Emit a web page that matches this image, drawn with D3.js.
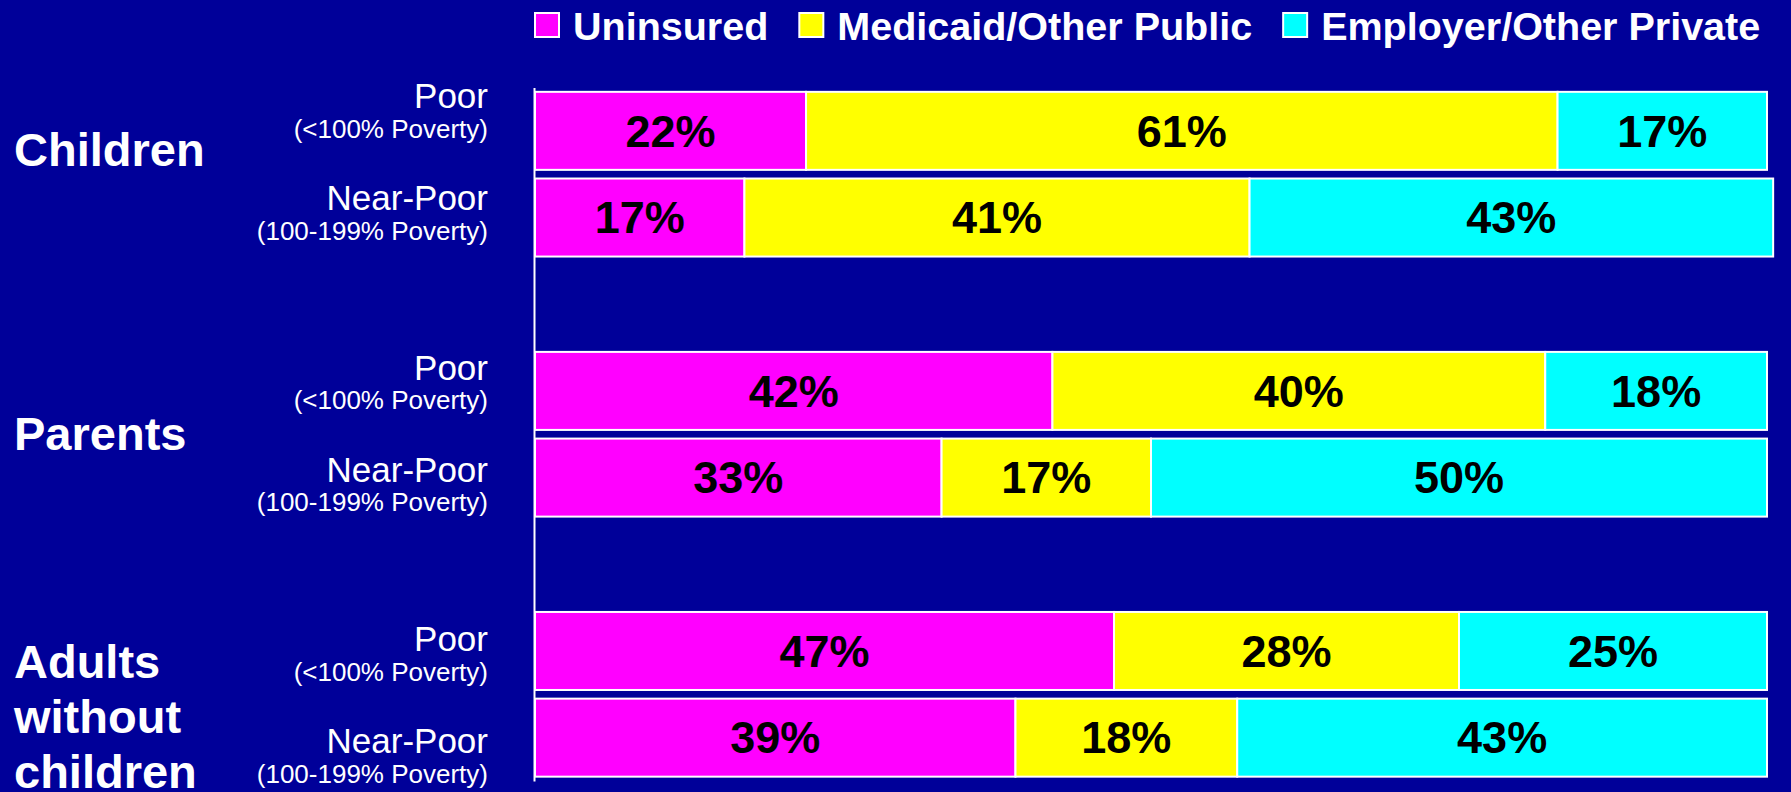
<!DOCTYPE html>
<html>
<head>
<meta charset="utf-8">
<script src="https://cdn.jsdelivr.net/npm/d3@7"></script>
<style>
  html, body { margin: 0; padding: 0; background: #000099; }
  svg { display: block; font-family: "Liberation Sans", Arial, sans-serif; }
</style>
</head>
<body>
<script>
var width = 1791;
var height = 792;

// data
var groups = ["Children", "Parents", "Adults without children"];
var incomeLevels = ["Poor", "Near-Poor"];
var incomeNotes = ["(<100% Poverty)", "(100-199% Poverty)"];
var series = ["Uninsured", "Medicaid/Other Public", "Employer/Other Private"];
var colors = ["#ff00ff", "#ffff00", "#00ffff"];

// rows: children poor, children near-poor, parents poor, parents near-poor, adults poor, adults near-poor
var uninsured = [22, 17, 42, 33, 47, 39];
var medicaid  = [61, 41, 40, 17, 28, 18];
var employer  = [17, 42.5, 18, 50, 25, 43];

var rows = [];
groups.forEach(function(g, gi) {
  incomeLevels.forEach(function(lv, li) {
    var i = gi * incomeLevels.length + li;
    var r = {key: g + "|" + lv, group: g, level: lv, note: incomeNotes[li]};
    r[series[0]] = uninsured[i];
    r[series[1]] = medicaid[i];
    r[series[2]] = employer[i];
    rows.push(r);
  });
});

// band slots with an empty slot between groups
var slots = [];
groups.forEach(function(g, gi) {
  if (gi > 0) slots.push("gap" + gi);
  incomeLevels.forEach(function(lv) { slots.push(g + "|" + lv); });
});

var svg = d3.select("body")
            .append("svg")
            .attr("width", width)
            .attr("height", height);

svg.append("rect")
   .attr("width", width)
   .attr("height", height)
   .attr("fill", "#000099");

var x = d3.scaleLinear().domain([0, 100]).range([535, 1767]);
var y = d3.scaleBand().domain(slots).range([87.5, 781]).paddingInner(0.1).paddingOuter(0.05);

// label positions (text boxes sit a bit apart from the bars)
var labelY = d3.scalePoint().domain(groups).range([163, 706]);
var levelOffset = d3.scalePoint().domain(incomeLevels).range([-51, 51]);
var titleY = d3.scalePoint().domain(groups).range([150, 717]);

var stacked = d3.stack().keys(series)(rows);

///////////////////////////////// bars /////////////////////////////////
var layer = svg.selectAll("g.layer")
     .data(stacked)
     .enter()
     .append("g")
     .attr("class", "layer")
     .attr("fill", function(d, i) { return colors[i]; });

layer.selectAll("rect")
     .data(function(d) { return d; })
     .enter()
     .append("rect")
     .attr("x", function(d) { return x(d[0]); })
     .attr("y", function(d) { return y(d.data.key); })
     .attr("width", function(d) { return x(d[1]) - x(d[0]); })
     .attr("height", y.bandwidth())
     .attr("stroke", "white")
     .attr("stroke-width", 2);

layer.selectAll("text")
     .data(function(d) { return d; })
     .enter()
     .append("text")
     .attr("x", function(d) { return (x(d[0]) + x(d[1])) / 2; })
     .attr("y", function(d) { return y(d.data.key) + y.bandwidth() / 2; })
     .attr("dy", "0.35em")
     .attr("text-anchor", "middle")
     .attr("font-size", 45)
     .attr("font-weight", "bold")
     .attr("fill", "black")
     .text(function(d) { return Math.round(d[1] - d[0]) + "%"; });

///////////////////////////////// axis /////////////////////////////////
var axis = svg.append("g")
     .attr("transform", "translate(534,0)")
     .call(d3.axisLeft(y).tickSize(0).tickSizeOuter(0).tickFormat(""));
axis.select(".domain").attr("stroke", "white").attr("stroke-width", 2);

///////////////////////////////// row labels /////////////////////////////////
var rowLabel = svg.selectAll("g.rowLabel")
     .data(rows)
     .enter()
     .append("g")
     .attr("class", "rowLabel")
     .attr("transform", function(d) {
       return "translate(488," + (labelY(d.group) + levelOffset(d.level)) + ")";
     });

rowLabel.append("text")
     .attr("y", -4)
     .attr("text-anchor", "end")
     .attr("font-size", 35)
     .attr("fill", "white")
     .text(function(d) { return d.level; });

rowLabel.append("text")
     .attr("y", 25.5)
     .attr("text-anchor", "end")
     .attr("font-size", 26)
     .attr("fill", "white")
     .text(function(d) { return d.note; });

///////////////////////////////// group titles /////////////////////////////////
var title = svg.selectAll("text.groupTitle")
     .data(groups)
     .enter()
     .append("text")
     .attr("class", "groupTitle")
     .attr("x", 14)
     .attr("font-size", 47)
     .attr("font-weight", "bold")
     .attr("fill", "white");

title.each(function(g) {
  var words = g.split(" ");
  var lineH = 55;
  var top = titleY(g) - (words.length - 1) * lineH / 2 + 16;
  d3.select(this).selectAll("tspan")
    .data(words)
    .enter()
    .append("tspan")
    .attr("x", 14)
    .attr("y", function(w, i) { return top + i * lineH; })
    .text(function(w) { return w; });
});

///////////////////////////////// legend /////////////////////////////////
var legend = svg.append("g").attr("class", "legend");
var lx = 535;
series.forEach(function(s, i) {
  legend.append("rect")
        .attr("x", lx)
        .attr("y", 13)
        .attr("width", 24)
        .attr("height", 24)
        .attr("fill", colors[i])
        .attr("stroke", "white")
        .attr("stroke-width", 2);
  var t = legend.append("text")
        .attr("x", lx + 38)
        .attr("y", 39.5)
        .attr("font-size", 39.5)
        .attr("font-weight", "bold")
        .attr("fill", "white")
        .text(s);
  lx = lx + 38 + t.node().getComputedTextLength() + 31;
});
</script>
</body>
</html>
